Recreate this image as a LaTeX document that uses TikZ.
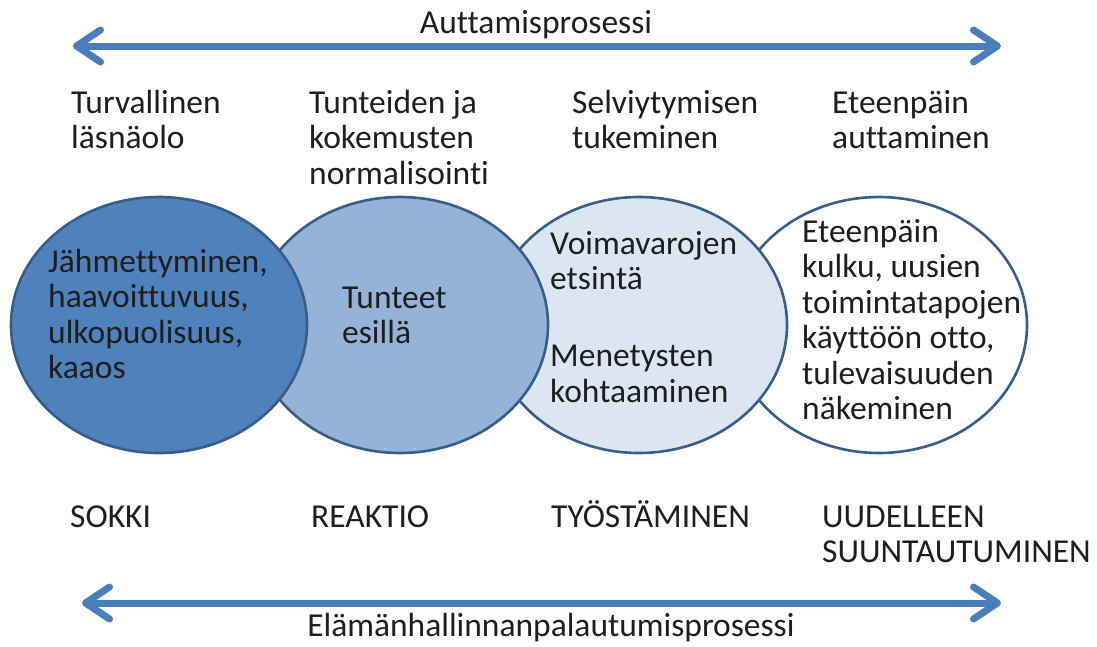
\documentclass[tikz,border=0pt]{standalone}
\usepackage{fontspec}
\setmainfont{Carlito}[Ligatures=NoCommon]
\usetikzlibrary{arrows.meta,shapes.geometric}
\definecolor{c1fill}{HTML}{4F81BD}
\definecolor{c2fill}{HTML}{95B3D7}
\definecolor{c3fill}{HTML}{DCE6F2}
\definecolor{edge}{HTML}{385D8A}
\definecolor{arrowblue}{HTML}{4A7EBB}
\definecolor{txt}{HTML}{1E1E1E}
\newcommand\textlines[1]{\begin{tabular}[t]{@{}l@{}}#1\end{tabular}}
\begin{document}
\begin{tikzpicture}[x=1pt,y=-1pt,
  bubble/.style={ellipse,draw=edge,line width=2.6pt,inner sep=0pt,
    minimum width=296pt,minimum height=256pt},
  lbl/.style={inner sep=0pt,anchor=base west,text=txt,
    font=\fontsize{33.5}{35.5}\selectfont},
  title/.style={inner sep=0pt,anchor=base,text=txt,
    font=\fontsize{33.5}{35.5}\selectfont},
  proc/.style={line width=7pt,draw=arrowblue,line cap=round,
    {Straight Barb[length=24pt,width=32pt,line join=round,line cap=round]}-{Straight Barb[length=24pt,width=32pt,line join=round,line cap=round]}}]
\useasboundingbox (0,0) rectangle (1097,646);
% circles, back to front
\node[bubble,fill=white] (c4) at (879,325) {};
\node[bubble,fill=c3fill] (c3) at (639,325) {};
\node[bubble,fill=c2fill] (c2) at (400,325) {};
\node[bubble,fill=c1fill] (c1) at (159,325) {};
% top arrow
\coordinate (ta) at (73,46);
\coordinate (tb) at (1001,46);
\draw[proc] (ta) -- (tb);
\node[title] (ttl) at (536,33) {Auttamisprosessi};
% bottom arrow
\coordinate (ba) at (82,603);
\coordinate (bb) at (1001,603);
\draw[proc] (ba) -- (bb);
\node[title] (btl) at (551,636) {Elämänhallinnanpalautumisprosessi};
% top labels
\node[lbl] (h1) at (71,113) {\textlines{Turvallinen\\läsnäolo}};
\node[lbl] (h2) at (309,113) {\textlines{Tunteiden ja\\kokemusten\\normalisointi}};
\node[lbl] (h3) at (572,113) {\textlines{Selviytymisen\\tukeminen}};
\node[lbl] (h4) at (832,113) {\textlines{Eteenpäin\\auttaminen}};
% circle texts
\node[lbl] (t1) at (48,272) {\textlines{Jähmettyminen,\\haavoittuvuus,\\ulkopuolisuus,\\kaaos}};
\node[lbl] (t2) at (342,308) {\textlines{Tunteet\\esillä}};
\node[lbl] (t3) at (550,254) {\textlines{Voimavarojen\\etsintä\\[6pt]\\Menetysten\\kohtaaminen}};
\node[lbl] (t4) at (802,242) {\textlines{Eteenpäin\\kulku, uusien\\toimintatapojen\\käyttöön otto,\\tulevaisuuden\\näkeminen}};
% bottom labels
\node[lbl] (b1) at (70,527) {SOKKI};
\node[lbl] (b2) at (311,527) {REAKTIO};
\node[lbl] (b3) at (551,527) {TYÖSTÄMINEN};
\node[lbl] (b4) at (822,527) {\textlines{UUDELLEEN\\SUUNTAUTUMINEN}};
\end{tikzpicture}
\end{document}
